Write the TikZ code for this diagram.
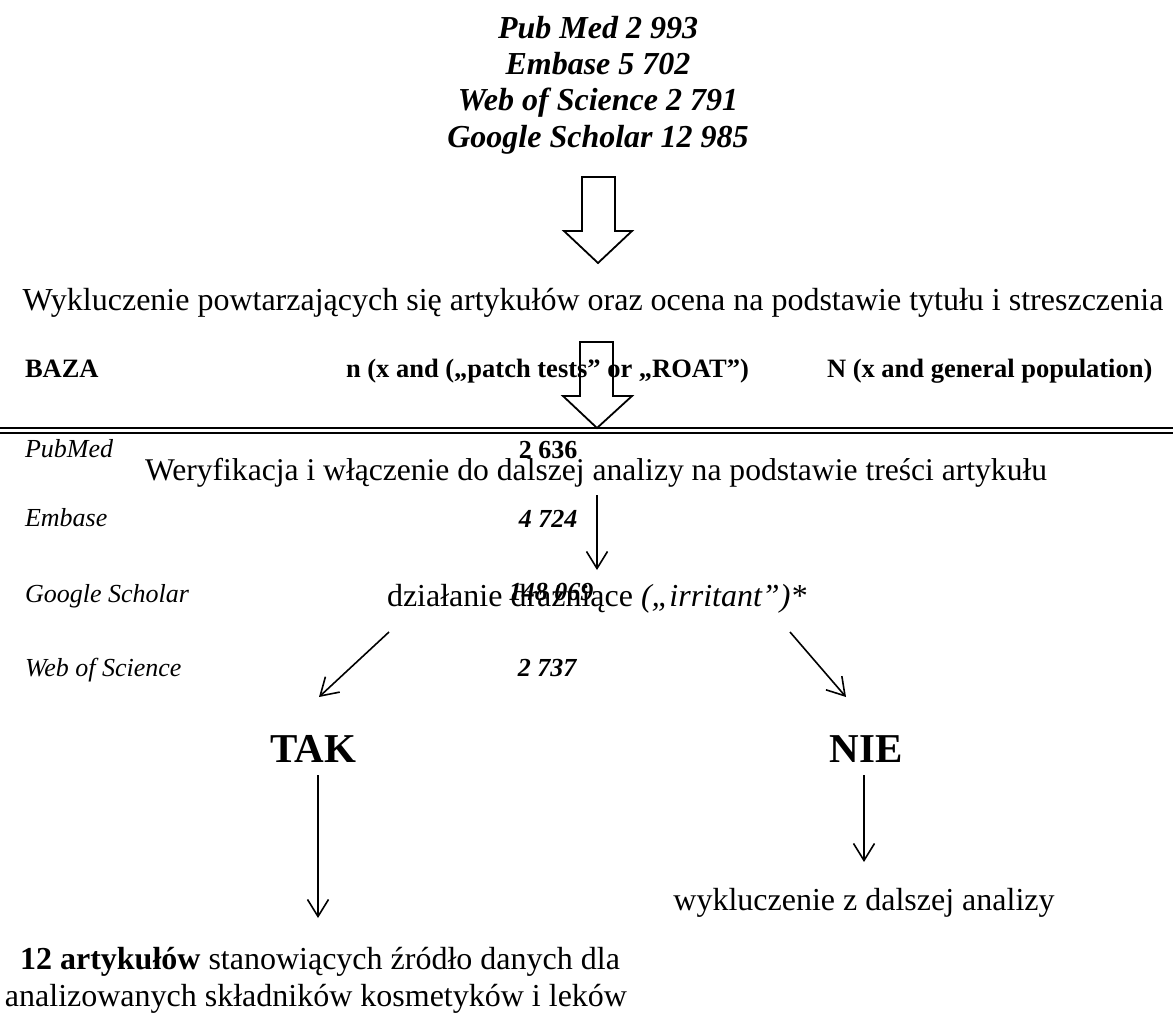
\documentclass[tikz,border=0pt]{standalone}
\usepackage{fontspec}
\setmainfont{Liberation Serif}
\usetikzlibrary{arrows.meta}
\begin{document}
\begin{tikzpicture}[x=1pt,y=-1pt,
  txt/.style={inner sep=0pt, outer sep=0pt},
  topline/.style={txt, anchor=base, font=\fontsize{32}{36}\selectfont\bfseries\itshape},
  headtxt/.style={txt, anchor=base west, font=\fontsize{26.5}{30}\selectfont\bfseries},
  dbtxt/.style={txt, anchor=base west, font=\fontsize{26}{30}\selectfont\itshape},
  numtxt/.style={txt, anchor=base, font=\fontsize{26}{30}\selectfont\bfseries},
  numitxt/.style={txt, anchor=base, font=\fontsize{26}{30}\selectfont\bfseries\itshape},
  flowtxt/.style={txt, anchor=base, font=\fontsize{32}{36}\selectfont},
  bigtxt/.style={txt, anchor=base, font=\fontsize{41}{46}\selectfont\bfseries},
  thinarrow/.style={line width=1.6pt, -{Straight Barb[length=17pt,width=21pt]}},
  hollow/.style={line width=1.8pt, draw=black, line join=miter},
  rule/.style={line width=2pt}
  ]
\useasboundingbox (0,0) rectangle (1173,1023);

% top list
\node[topline] (t1) at (598,38) {Pub Med 2 993};
\node[topline] (t2) at (598,74) {Embase 5 702};
\node[topline] (t3) at (598,110) {Web of Science 2 791};
\node[topline] (t4) at (598,147) {Google Scholar 12 985};

% hollow arrow 1
\draw[hollow] (582,177) -- (615,177) -- (615,231) -- (632,231) -- (598,263)
  -- (564,231) -- (582,231) -- cycle;

\node[flowtxt] (wyk) at (593,310)
  {Wykluczenie powtarzających się artykułów oraz ocena na podstawie tytułu i streszczenia};

% header row
\node[headtxt] (baza) at (25,377) {BAZA};
\node[headtxt] (hn) at (346,377) {n (x and („patch tests” or „ROAT”)};
\node[headtxt] (hN) at (827,377) {N (x and general population)};

% hollow arrow 2
\draw[hollow] (580,342) -- (613,342) -- (613,396) -- (632,396) -- (597,428)
  -- (563,396) -- (580,396) -- cycle;

% double rule
\coordinate (r1w) at (0,427.5); \coordinate (r1e) at (1173,427.5);
\coordinate (r2w) at (0,432.5); \coordinate (r2e) at (1173,432.5);
\draw[rule] (r1w) -- (r1e);
\draw[rule] (r2w) -- (r2e);

% table rows
\node[dbtxt] (pm) at (25,457) {PubMed};
\node[numtxt] (n1) at (548,458) {2 636};
\node[dbtxt] (em) at (25,526) {Embase};
\node[numitxt] (n2) at (548,527) {4 724};
\node[dbtxt] (gs) at (25,602) {Google Scholar};
\node[numitxt] (n3) at (551,600) {148 069};
\node[dbtxt] (ws) at (25,676) {Web of Science};
\node[numitxt] (n4) at (547,676) {2 737};

% flow
\node[txt, anchor=base west, font=\fontsize{31.6}{36}\selectfont] (wer) at (145,480)
  {Weryfikacja i włączenie do dalszej analizy na podstawie treści artykułu};
\coordinate (a1s) at (597,495); \coordinate (a1e) at (597,570);
\draw[thinarrow] (a1s) -- (a1e);

\node[txt, anchor=base west, font=\fontsize{32}{36}\selectfont] (dz) at (387,606)
  {działanie drażniące \textit{(„irritant”)*}};

\coordinate (l1) at (389,632); \coordinate (l2) at (319,697);
\coordinate (r1) at (790,632); \coordinate (r2) at (846,697);
\draw[thinarrow] (l1) -- (l2);
\draw[thinarrow] (r1) -- (r2);

\node[bigtxt] (tak) at (313,762) {TAK};
\node[bigtxt] (nie) at (866,762) {NIE};

\coordinate (ts) at (318,775); \coordinate (te) at (318,918);
\coordinate (ns) at (864,775); \coordinate (ne) at (864,862);
\draw[thinarrow] (ts) -- (te);
\draw[thinarrow] (ns) -- (ne);

\node[flowtxt] (excl) at (864,910) {wykluczenie z dalszej analizy};

\node[flowtxt] (b1) at (316,969)
  {\hspace{0.25em}\textbf{12 artykułów} stanowiących źródło danych dla};
\node[flowtxt] (b2) at (316,1006)
  {analizowanych składników kosmetyków i leków};
\end{tikzpicture}
\end{document}
